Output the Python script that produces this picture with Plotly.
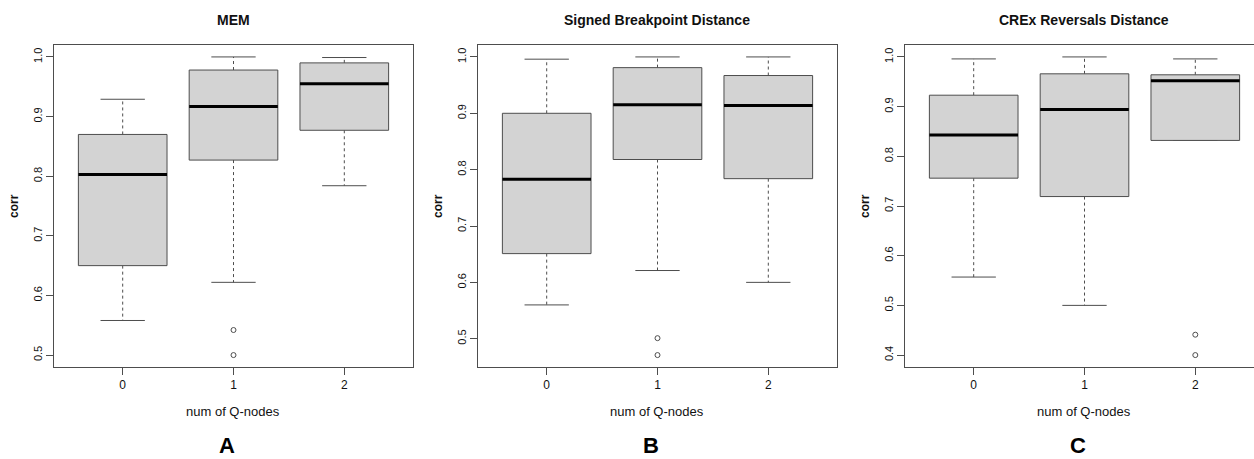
import plotly.graph_objects as go

# ---------------- data ----------------
groups = ["0", "1", "2"]

mem_lower = [0.558, 0.622, 0.784]
mem_q1 = [0.650, 0.827, 0.877]
mem_median = [0.803, 0.917, 0.955]
mem_q3 = [0.870, 0.978, 0.990]
mem_upper = [0.929, 1.000, 0.999]
mem_outliers = [[], [0.542, 0.500], []]

sbd_lower = [0.560, 0.621, 0.600]
sbd_q1 = [0.651, 0.818, 0.784]
sbd_median = [0.783, 0.915, 0.914]
sbd_q3 = [0.900, 0.981, 0.967]
sbd_upper = [0.996, 1.000, 1.000]
sbd_outliers = [[], [0.501, 0.471], []]

crex_lower = [0.557, 0.500, 0.832]
crex_q1 = [0.756, 0.719, 0.832]
crex_median = [0.843, 0.894, 0.952]
crex_q3 = [0.923, 0.966, 0.964]
crex_upper = [0.996, 1.000, 0.996]
crex_outliers = [[], [], [0.441, 0.400]]

titles = ["MEM", "Signed Breakpoint Distance", "CREx Reversals Distance"]
letters = ["A", "B", "C"]
x_label = "num of Q-nodes"
y_label = "corr"

panels = [
    dict(lower=mem_lower, q1=mem_q1, med=mem_median, q3=mem_q3, upper=mem_upper, out=mem_outliers),
    dict(lower=sbd_lower, q1=sbd_q1, med=sbd_median, q3=sbd_q3, upper=sbd_upper, out=sbd_outliers),
    dict(lower=crex_lower, q1=crex_q1, med=crex_median, q3=crex_q3, upper=crex_upper, out=crex_outliers),
]

# ---------------- layout geometry ----------------
W, H = 1254, 459
FONT = "Liberation Sans, Arial, Helvetica, sans-serif"
LINE = "#4d4d4d"
FILL = "#d3d3d3"

x_domains = [(54 / W, 413 / W), (478 / W, 837 / W), (905 / W, 1.0)]
x_ranges = [(0.38, 3.62), (0.38, 3.62), (0.38, 0.38 + 349 / 110.8)]
y_domain = (1 - 367 / H, 1 - 45 / H)
y_tickvals = [[0.5, 0.6, 0.7, 0.8, 0.9, 1.0],
              [0.5, 0.6, 0.7, 0.8, 0.9, 1.0],
              [0.4, 0.5, 0.6, 0.7, 0.8, 0.9, 1.0]]

fig = go.Figure()
positions = [i + 1 for i in range(len(groups))]
half = 0.4
cap = 0.2

layout_axes = {}
annotations = []

for k, p in enumerate(panels):
    xa = "x" if k == 0 else f"x{k + 1}"
    ya = "y" if k == 0 else f"y{k + 1}"
    for i, pos in enumerate(positions):
        lo, q1, md, q3, up = p["lower"][i], p["q1"][i], p["med"][i], p["q3"][i], p["upper"][i]
        # dashed whiskers
        fig.add_trace(go.Scatter(
            x=[pos, pos, None, pos, pos], y=[q3, up, None, q1, lo],
            mode="lines", line=dict(color=LINE, width=1, dash="3px,3px"),
            xaxis=xa, yaxis=ya, hoverinfo="skip", showlegend=False))
        # whisker caps
        fig.add_trace(go.Scatter(
            x=[pos - cap, pos + cap, None, pos - cap, pos + cap], y=[up, up, None, lo, lo],
            mode="lines", line=dict(color=LINE, width=1),
            xaxis=xa, yaxis=ya, hoverinfo="skip", showlegend=False))
        # box
        fig.add_trace(go.Scatter(
            x=[pos - half, pos + half, pos + half, pos - half, pos - half],
            y=[q1, q1, q3, q3, q1],
            mode="lines", fill="toself", fillcolor=FILL,
            line=dict(color=LINE, width=1),
            xaxis=xa, yaxis=ya, hoverinfo="skip", showlegend=False))
        # median
        fig.add_trace(go.Scatter(
            x=[pos - half, pos + half], y=[md, md],
            mode="lines", line=dict(color="#000000", width=3),
            xaxis=xa, yaxis=ya, hoverinfo="skip", showlegend=False))
        # outliers
        if p["out"][i]:
            fig.add_trace(go.Scatter(
                x=[pos] * len(p["out"][i]), y=p["out"][i],
                mode="markers",
                marker=dict(symbol="circle-open", size=5, color=LINE, line=dict(width=1, color=LINE)),
                xaxis=xa, yaxis=ya, hoverinfo="skip", showlegend=False))

    vals = p["lower"] + p["upper"] + [v for o in p["out"] for v in o]
    ymin, ymax = min(vals), max(vals)
    pad = 0.04 * (ymax - ymin)

    xkey = "xaxis" if k == 0 else f"xaxis{k + 1}"
    ykey = "yaxis" if k == 0 else f"yaxis{k + 1}"
    layout_axes[xkey] = dict(
        domain=list(x_domains[k]), range=list(x_ranges[k]), anchor=ya,
        tickmode="array", tickvals=positions, ticktext=groups,
        ticks="outside", ticklen=7, tickcolor=LINE, tickwidth=1,
        showline=True, linecolor=LINE, linewidth=1, mirror=True,
        showgrid=False, zeroline=False, fixedrange=True,
        tickfont=dict(family=FONT, size=12, color="#111111"))
    layout_axes[ykey] = dict(
        domain=list(y_domain), range=[ymin - pad, ymax + pad], anchor=xa,
        tickmode="array", tickvals=y_tickvals[k], tickformat=".1f", tickangle=-90,
        ticks="outside", ticklen=7, tickcolor=LINE, tickwidth=1,
        showline=True, linecolor=LINE, linewidth=1, mirror=(k < 2),
        showgrid=False, zeroline=False, fixedrange=True,
        tickfont=dict(family=FONT, size=11, color="#111111"))

    x0, x1 = x_domains[k]
    left_px = x0 * W
    unit = 110.8
    centre_px = left_px + (2.0 - x_ranges[k][0]) * unit
    annotations.append(dict(text=f"<b>{titles[k]}</b>", x=centre_px / W, y=1 - 20 / H,
                            xref="paper", yref="paper", showarrow=False,
                            xanchor="center", yanchor="middle",
                            font=dict(family=FONT, size=14, color="#111111")))
    annotations.append(dict(text=x_label, x=centre_px / W, y=1 - 411 / H,
                            xref="paper", yref="paper", showarrow=False,
                            xanchor="center", yanchor="middle",
                            font=dict(family=FONT, size=13, color="#111111")))
    annotations.append(dict(text=f"<b>{letters[k]}</b>", x=(centre_px - 6) / W, y=0,
                            xref="paper", yref="paper", showarrow=False,
                            xanchor="center", yanchor="bottom", borderpad=0,
                            font=dict(family=FONT, size=22, color="#000000")))
    annotations.append(dict(text=f"<b>{y_label}</b>", x=(left_px - 40) / W, y=1 - 206 / H,
                            xref="paper", yref="paper", showarrow=False, textangle=-90,
                            xanchor="center", yanchor="middle",
                            font=dict(family=FONT, size=12, color="#111111")))

fig.update_layout(
    width=W, height=H,
    margin=dict(l=0, r=0, t=0, b=0),
    paper_bgcolor="white", plot_bgcolor="white",
    font=dict(family=FONT, color="#111111"),
    annotations=annotations,
    showlegend=False,
    **layout_axes,
)

fig.write_html(
    "out.html",
    config={"displayModeBar": False, "staticPlot": True},
    post_script="document.body.style.margin='0';document.body.style.padding='0';"
                "document.body.style.overflow='hidden';",
)
